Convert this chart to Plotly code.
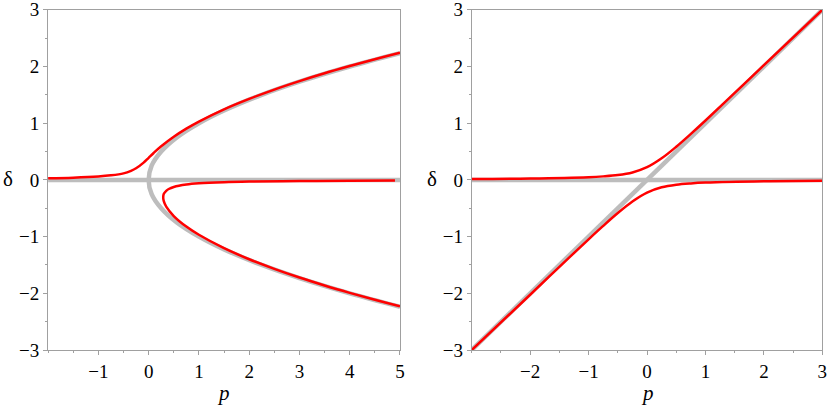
import plotly.graph_objects as go
from plotly.subplots import make_subplots

# ---- left panel: pitchfork (perfect = grey, imperfect = red) ----
L_zero_p = [-2, 5]
L_zero_d = [0, 0]
L_par_p = [5, 4, 3, 2.25, 1.5, 1, 0.56, 0.25, 0.06, 0, 0.06, 0.25, 0.56, 1, 1.5, 2.25, 3, 4, 5]
L_par_d = [2.236, 2.0, 1.732, 1.5, 1.225, 1.0, 0.75, 0.5, 0.25, 0, -0.25, -0.5, -0.75, -1.0, -1.225, -1.5, -1.732, -2.0, -2.236]

L_up_p = [-2, -1.5, -1, -0.75, -0.5, -0.35, -0.25, -0.1, 0, 0.1, 0.25, 0.5, 0.75, 1, 1.5, 2, 2.5, 3, 3.5, 4, 4.5, 5]
L_up_d = [0.03, 0.04, 0.06, 0.08, 0.115, 0.16, 0.205, 0.305, 0.39, 0.475, 0.593, 0.761, 0.904, 1.029, 1.245, 1.429, 1.593, 1.742, 1.88, 2.007, 2.128, 2.242]

L_lo_p = [4.9, 4, 3, 2, 1.5, 1, 0.75, 0.5, 0.4, 0.35, 0.3, 0.29, 0.3, 0.35, 0.5, 0.75, 1, 1.5, 2, 2.5, 3, 3.5, 4, 4.5, 5]
L_lo_d = [-0.012, -0.015, -0.02, -0.03, -0.04, -0.06, -0.081, -0.124, -0.16, -0.192, -0.249, -0.31, -0.37, -0.472, -0.637, -0.823, -0.968, -1.204, -1.399, -1.569, -1.722, -1.862, -1.992, -2.115, -2.23]

# ---- right panel: transcritical ----
R_zero_p = [-3, 3]
R_zero_d = [0, 0]
R_diag_p = [-3, 3]
R_diag_d = [-3, 3]

R_up_p = [-3, -2, -1, -0.75, -0.5, -0.25, 0, 0.25, 0.5, 0.75, 1, 1.5, 2, 3]
R_up_d = [0.017, 0.025, 0.048, 0.062, 0.085, 0.131, 0.224, 0.381, 0.585, 0.812, 1.048, 1.533, 2.025, 3.0]
R_lo_p = [-3, -2, -1.5, -1, -0.75, -0.5, -0.25, 0, 0.25, 0.5, 0.75, 1, 2, 3]
R_lo_d = [-3.0, -2.025, -1.533, -1.048, -0.812, -0.585, -0.381, -0.224, -0.131, -0.085, -0.062, -0.048, -0.025, -0.017]

GREY = "#bdbdbd"
RED = "#ff0000"
SERIF = "Liberation Serif"

fig = make_subplots(rows=1, cols=2)


def grey(x, y, col):
    fig.add_trace(go.Scatter(x=x, y=y, mode="lines", line=dict(color=GREY, width=4.5, shape="spline"),
                             hoverinfo="skip"), row=1, col=col)


def red(x, y, col):
    fig.add_trace(go.Scatter(x=x, y=y, mode="lines", line=dict(color=RED, width=2.5, shape="spline"),
                             hoverinfo="skip"), row=1, col=col)


grey(L_zero_p, L_zero_d, 1)
grey(L_par_p, L_par_d, 1)
red(L_up_p, L_up_d, 1)
red(L_lo_p, L_lo_d, 1)

grey(R_zero_p, R_zero_d, 2)
grey(R_diag_p, R_diag_d, 2)
red(R_up_p, R_up_d, 2)
red(R_lo_p, R_lo_d, 2)

tickfont = dict(family=SERIF, size=19, color="black")
axis_common = dict(showgrid=False, zeroline=False, showline=True, linecolor="#a0a0a0", linewidth=1,
                   mirror=True, ticks="outside", ticklen=4, tickcolor="#a0a0a0", tickfont=tickfont,
                   ticklabeloverflow="allow", automargin=False,
                   minor=dict(ticks="outside", ticklen=2, tickcolor="#a0a0a0", dtick=0.5))

fig.update_xaxes(axis_common)
fig.update_yaxes(axis_common)

fig.update_xaxes(range=[-2, 5], tickvals=[-1, 0, 1, 2, 3, 4, 5], ticktext=["\u22121", "0", "1", "2", "3", "4", "5"],
                 domain=[0.058, 0.4825], row=1, col=1)
fig.update_xaxes(range=[-3, 3], tickvals=[-2, -1, 0, 1, 2, 3], ticktext=["\u22122", "\u22121", "0", "1", "2", "3"],
                 domain=[0.569, 0.992], row=1, col=2)
yticks = [-3, -2, -1, 0, 1, 2, 3]
ytext = ["\u22123", "\u22122", "\u22121", "0", "1", "2", "3"]
fig.update_yaxes(range=[-3, 3], tickvals=yticks, ticktext=ytext, domain=[0.14, 0.976])

labfont = dict(family=SERIF, size=21, color="black")
for xp in [8 / 829, 432 / 829]:
    fig.add_annotation(x=xp, y=(407 - 179) / 407, xref="paper", yref="paper", text="\u03b4",
                       showarrow=False, font=labfont, xanchor="center", yanchor="middle")
for xp in [223 / 829, 647 / 829]:
    fig.add_annotation(x=xp, y=(407 - 393) / 407, xref="paper", yref="paper", text="<i>p</i>",
                       showarrow=False, font=labfont, xanchor="center", yanchor="middle")

fig.update_layout(width=829, height=407, margin=dict(l=0, r=0, t=0, b=0),
                  font=dict(family=SERIF),
                  paper_bgcolor="white", plot_bgcolor="white", showlegend=False)

fig.write_html("out.html", config={"displayModeBar": False},
               post_script="document.body.style.margin='0';")
